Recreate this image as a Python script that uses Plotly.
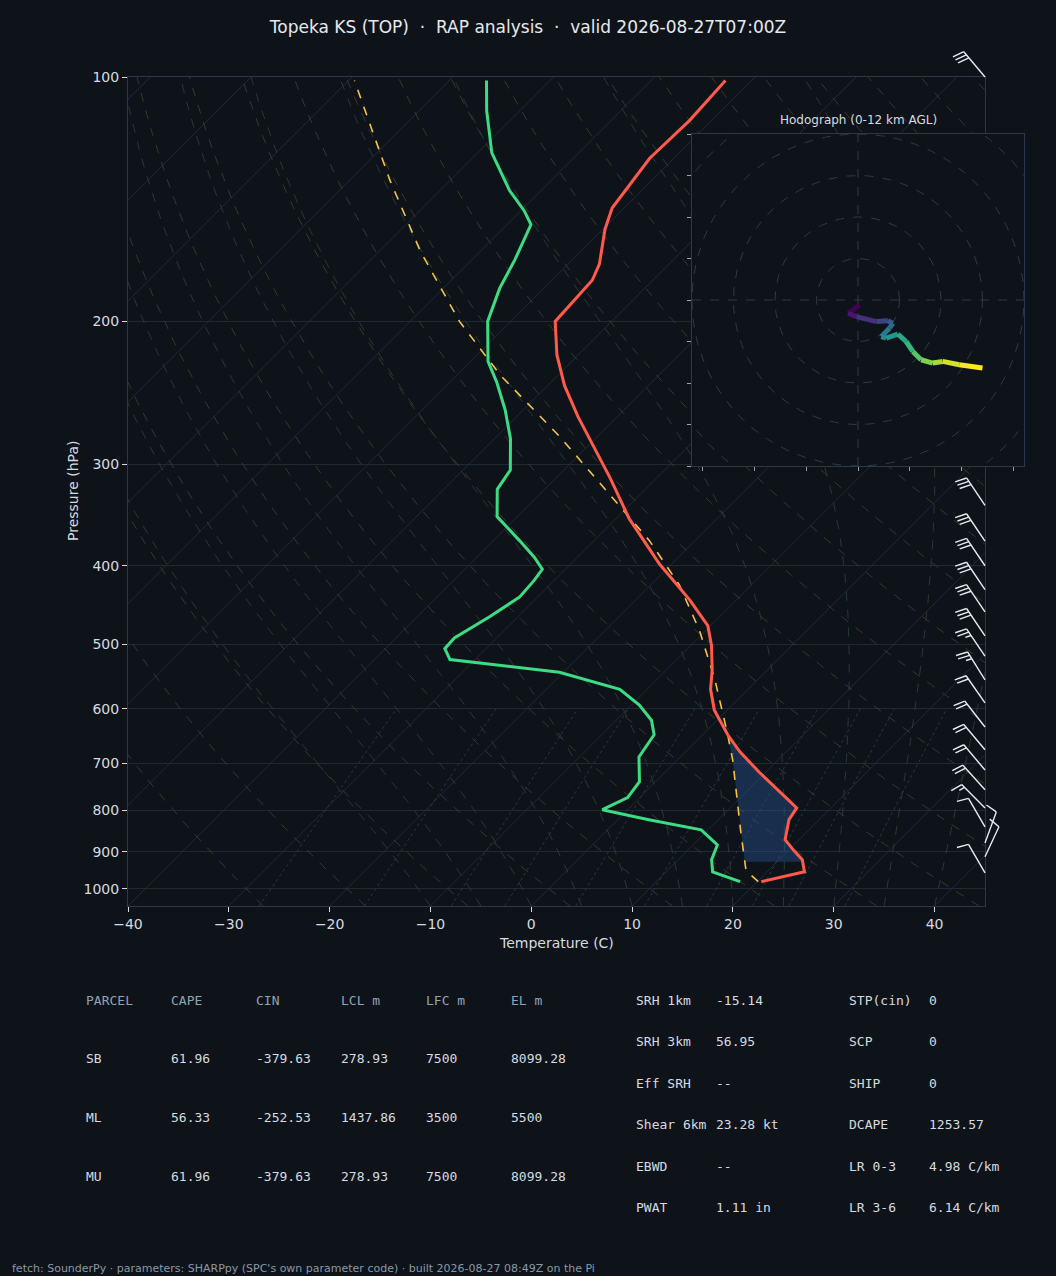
import numpy as np
import plotly.graph_objects as go
from plotly.colors import sample_colorscale

# sounding (real temperatures, C)
t_p = [980, 953, 921, 898, 870, 822, 795, 755, 718, 678, 646, 602, 568, 537, 501, 474, 441, 398,
       350, 312, 286, 262, 240, 220, 200, 178, 170, 154, 145, 126, 113, 101]
t_c = [20.4, 23.7, 22.3, 20.6, 18.6, 17.0, 16.6, 12.9, 9.3, 5.4, 2.5, -1.3, -3.7, -5.5, -8.0, -10.3,
       -14.6, -21.2, -28.7, -34.6, -39.2, -43.9, -48.3, -52.1, -55.6, -56.0, -56.9, -59.8, -61.2,
       -62.4, -62.2, -62.6]
td_p = [980, 953, 921, 883, 846, 822, 799, 772, 738, 711, 688, 646, 620, 594, 568, 541, 522, 506,
        491, 462, 437, 417, 404, 391, 373, 348, 322, 305, 279, 257, 238, 224, 200, 182, 168, 152,
        146, 138, 124, 110, 101]
td_c = [18.3, 14.6, 13.3, 12.4, 9.3, 3.1, -2.5, -1.2, -1.6, -2.9, -4.1, -4.8, -6.5, -9.2, -12.7,
        -20.4, -32.5, -34.1, -34.2, -32.8, -31.8, -32.0, -32.3, -34.2, -37.3, -42.0, -44.7, -45.3,
        -48.4, -51.8, -55.3, -58.3, -62.3, -64.4, -65.7, -67.6, -69.7, -73.1, -78.6, -83.3, -86.3]
parcel_p = [980, 950, 846, 694, 646, 553, 480, 422, 372, 327, 277, 233, 200, 164, 134, 101]
parcel_c = [20.1, 17.8, 13.2, 5.5, 2.5, -4.2, -10.7, -17.2, -24.6, -33.0, -43.8, -55.7, -65.1,
            -75.9, -86.0, -99.4]
cape_top, cape_bot = 646, 926

# winds
barb_p = [100, 337, 373, 400, 428, 456, 488, 517, 553, 590, 632, 674, 714, 755, 795, 839, 878, 913, 956]
barb_dir = [320, 326, 326, 326, 326, 326, 326, 326, 328, 325, 322, 320, 320, 318, 315, 330, 20, 25, 330]
barb_spd = [30, 30, 30, 30, 30, 30, 30, 25, 25, 20, 20, 20, 20, 20, 15, 10, 10, 10, 10]

hodo_u = [0.4, -2.4, -0.4, 4.4, 7.2, 8.4, 7.6, 5.6, 6.8, 9.6, 11.6, 13.2, 15.2, 18.0, 20.4, 24.4, 30.0]
hodo_v = [-1.2, -3.2, -4.0, -5.2, -5.0, -5.6, -6.8, -8.8, -9.2, -8.2, -10.0, -12.4, -14.4, -15.2,
          -14.8, -15.6, -16.4]

p_ticks = [100, 200, 300, 400, 500, 600, 700, 800, 900, 1000]
t_ticks = [-40, -30, -20, -10, 0, 10, 20, 30, 40]

tbl_head = ["PARCEL", "CAPE", "CIN", "LCL m", "LFC m", "EL m"]
tbl_rows = [["SB", "61.96", "-379.63", "278.93", "7500", "8099.28"],
            ["ML", "56.33", "-252.53", "1437.86", "3500", "5500"],
            ["MU", "61.96", "-379.63", "278.93", "7500", "8099.28"]]
idx_left = [("SRH 1km", "-15.14"), ("SRH 3km", "56.95"), ("Eff SRH", "--"),
            ("Shear 6km", "23.28 kt"), ("EBWD", "--"), ("PWAT", "1.11 in")]
idx_right = [("STP(cin)", "0"), ("SCP", "0"), ("SHIP", "0"), ("DCAPE", "1253.57"),
             ("LR 0-3", "4.98 C/km"), ("LR 3-6", "6.14 C/km")]

BG = "#0e1319"
PBOT = 1050.0
SKEW = 80.5  # C per decade of pressure (45 deg)
W, H = 1056, 1276
X0PX, X1PX, Y0PX, Y1PX = 128, 985, 77, 906
PXX = (X1PX - X0PX) / 85.0
PXY = (Y1PX - Y0PX) / np.log10(PBOT / 100)


def skew(t, p):
    return np.asarray(t, float) + SKEW * np.log10(PBOT / np.asarray(p, float))


fig = go.Figure()


def bgline(t, p, color, dash, width=1):
    fig.add_trace(go.Scatter(x=skew(t, p), y=p, mode="lines", hoverinfo="skip", showlegend=False,
                             line=dict(color=color, width=width, dash=dash)))


pp = np.linspace(PBOT, 100, 120)
# isotherms
for t0 in range(-140, 60, 10):
    bgline(np.full_like(pp, t0), pp, "#253040", "solid", 0.8)
# dry adiabats
for th in range(-30, 220, 10):
    bgline((th + 273.15) * (pp / 1000) ** 0.2857 - 273.15, pp, "#3d3c2e", "dash", 0.9)
# moist adiabats
for t0 in range(-10, 48, 5):
    T = t0 + 273.15
    ts = []
    for i, p in enumerate(pp):
        ts.append(T - 273.15)
        if i + 1 < len(pp):
            es = 6.112 * np.exp(17.67 * (T - 273.15) / (T - 29.65))
            rs = 0.622 * es / (p - es)
            dtdp = (287.0 * T + 2.5e6 * rs) / (p * (1004.0 + 2.5e6 ** 2 * rs * 0.622 / (287.0 * T ** 2)))
            T += dtdp * (pp[i + 1] - p)
    bgline(ts, pp, "#2b3d36", "dash", 0.9)
# mixing ratio
pm = np.linspace(PBOT, 600, 40)
for w in [0.4, 1, 2, 3, 5, 8, 12, 16, 20, 28]:
    e = w * pm / (622 + w)
    le = np.log(e / 6.112)
    bgline(243.5 * le / (17.67 - le), pm, "#2a3a4a", "dot", 0.9)

# CAPE shading
lp = np.linspace(np.log(cape_bot), np.log(cape_top), 30)
ps = np.exp(lp)
tt = np.interp(lp, np.log(t_p[::-1]), skew(t_c, t_p)[::-1])
pt = np.interp(lp, np.log(parcel_p[::-1]), skew(parcel_c, parcel_p)[::-1])
fig.add_trace(go.Scatter(x=np.concatenate([tt, pt[::-1]]), y=np.concatenate([ps, ps[::-1]]),
                         fill="toself", fillcolor="rgba(40,80,140,0.45)", mode="lines",
                         line=dict(width=0), hoverinfo="skip", showlegend=False))

fig.add_trace(go.Scatter(x=skew(parcel_c, parcel_p), y=parcel_p, mode="lines", showlegend=False,
                         line=dict(color="#f5c542", width=1.6, dash="dash")))
fig.add_trace(go.Scatter(x=skew(td_c, td_p), y=td_p, mode="lines", showlegend=False,
                         line=dict(color="#3ddc84", width=3)))
fig.add_trace(go.Scatter(x=skew(t_c, t_p), y=t_p, mode="lines", showlegend=False,
                         line=dict(color="#ff5a4a", width=3)))

# hodograph
R = 40
fig.add_trace(go.Scatter(x=[-R, R, R, -R, -R], y=[-R, -R, R, R, -R], xaxis="x2", yaxis="y2",
                         fill="toself", fillcolor=BG, mode="lines", line=dict(width=0),
                         hoverinfo="skip", showlegend=False))
cols = sample_colorscale("Viridis", [i / (len(hodo_u) - 2) for i in range(len(hodo_u) - 1)])
th = np.linspace(0, 2 * np.pi, 200)
for rr in [10, 20, 30, 40, 50]:
    fig.add_trace(go.Scatter(x=rr * np.cos(th), y=rr * np.sin(th), xaxis="x2", yaxis="y2", mode="lines",
                             line=dict(color="#2e3a48", width=1, dash="dash"), showlegend=False,
                             hoverinfo="skip"))
for xs, ys in (([-R, R], [0, 0]), ([0, 0], [-R, R])):
    fig.add_trace(go.Scatter(x=xs, y=ys, xaxis="x2", yaxis="y2", mode="lines", hoverinfo="skip",
                             line=dict(color="#2e3a48", width=1, dash="dash"), showlegend=False))
for i in range(len(hodo_u) - 1):
    fig.add_trace(go.Scatter(x=hodo_u[i:i + 2], y=hodo_v[i:i + 2], xaxis="x2", yaxis="y2",
                             mode="lines", line=dict(color=cols[i], width=5), showlegend=False))

# wind barbs on a full-page overlay axis with the same scale as the skew-T
bx, by = [], []


def seg(x0, dx0, dy0, dx1, dy1, p):
    for dxp, dyp in ((dx0, dy0), (dx1, dy1)):
        bx.append(x0 + dxp / PXX)
        by.append(10 ** (np.log10(p) - dyp / PXY))
    bx.append(None)
    by.append(None)


for p, d, s in zip(barb_p, barb_dir, barb_spd):
    x0 = 45.0
    r = np.radians(d)
    ux, uy = np.sin(r), np.cos(r)
    L = 33
    seg(x0, 0, 0, ux * L, uy * L, p)
    a = np.radians(75)
    fx, fy = ux * np.cos(a) - uy * np.sin(a), ux * np.sin(a) + uy * np.cos(a)
    n_full, half = int(s // 10), (s % 10) >= 5
    pos = L
    for k in range(n_full):
        sx, sy = ux * pos, uy * pos
        seg(x0, sx, sy, sx + fx * 12, sy + fy * 12, p)
        pos -= 4
    if half:
        sx, sy = ux * pos, uy * pos
        seg(x0, sx, sy, sx + fx * 6, sy + fy * 6, p)
fig.add_trace(go.Scatter(x=bx, y=by, mode="lines", showlegend=False, xaxis="x3", yaxis="y3",
                         line=dict(color="#e8ecf0", width=1.4), hoverinfo="skip"))

x3_range = [-40 - X0PX / PXX, -40 + (W - X0PX) / PXX]
y3_range = [2 + (H - Y0PX) / PXY, 2 - Y0PX / PXY]

ax_col = "#2c3846"
txt = "#d6dbe0"
fig.update_layout(
    width=W, height=H, paper_bgcolor=BG, plot_bgcolor="rgba(0,0,0,0)", margin=dict(l=0, r=0, t=0, b=0),
    font=dict(family="DejaVu Sans", color=txt, size=14),
    title=dict(text="Topeka KS (TOP)  ·  RAP analysis  ·  valid 2026-08-27T07:00Z", x=0.5, y=1 - 27 / H,
               xanchor="center", yanchor="middle", font=dict(size=17, color="#e6e9ec")),
    xaxis=dict(domain=[X0PX / W, X1PX / W], range=[-40, 45], tickvals=t_ticks, showgrid=False,
               zeroline=False, showline=True, linecolor=ax_col, mirror=True, ticks="outside",
               tickcolor=txt, ticklen=5, automargin=False),
    yaxis=dict(domain=[1 - Y1PX / H, 1 - Y0PX / H], type="log", range=[np.log10(PBOT), 2],
               tickvals=p_ticks, ticktext=[str(v) for v in p_ticks], gridcolor="#1f2a35",
               zeroline=False, showline=True, linecolor=ax_col, mirror=True, ticks="outside",
               tickcolor=txt, ticklen=5, automargin=False),
    xaxis2=dict(domain=[692 / W, 1024 / W], anchor="y2", range=[-R, R], dtick=12.5, tick0=0,
                showticklabels=False, ticks="outside", tickcolor="#9aa4ae", ticklen=4, automargin=False,
                showgrid=False, zeroline=False, showline=True, linecolor=ax_col, mirror=True),
    yaxis2=dict(domain=[1 - 466 / H, 1 - 134 / H], anchor="x2", range=[-R, R], dtick=10,
                showticklabels=False, ticks="outside", tickcolor="#9aa4ae", ticklen=4, automargin=False,
                showgrid=False, zeroline=False, showline=True, linecolor=ax_col, mirror=True),
    xaxis3=dict(domain=[0, 1], anchor="y3", range=x3_range, visible=False),
    yaxis3=dict(domain=[0, 1], anchor="x3", type="log", range=y3_range, visible=False),
)

ann = []


def text(s, x, y, color="#d6dbe0", size=13, family="DejaVu Sans Mono", anchor="left"):
    ann.append(dict(text=s, x=x / W, y=1 - y / H, xref="paper", yref="paper", showarrow=False,
                    xanchor=anchor, yanchor="middle", font=dict(size=size, color=color, family=family)))


text("Hodograph (0-12 km AGL)", 858, 120, "#d6dbe0", 12, "DejaVu Sans", "center")
text("Temperature (C)", 556, 943, txt, 14, "DejaVu Sans", "center")
ann.append(dict(text="Pressure (hPa)", x=63 / W, y=1 - 491 / H, xref="paper", yref="paper",
                showarrow=False, textangle=-90, font=dict(size=14, color=txt)))
cx = [84, 169, 254, 339, 424, 509]
for c, h in zip(cx, tbl_head):
    text(h, c, 1000, "#8fa3b8")
for r, row in enumerate(tbl_rows):
    for c, v in zip(cx, row):
        text(v, c, 1058 + r * 59)
for r, (k, v) in enumerate(idx_left):
    text(k, 634, 1000 + r * 41.5)
    text(v, 714, 1000 + r * 41.5)
for r, (k, v) in enumerate(idx_right):
    text(k, 847, 1000 + r * 41.5)
    text(v, 927, 1000 + r * 41.5)
text("fetch: SounderPy · parameters: SHARPpy (SPC's own parameter code) · built 2026-08-27 08:49Z on the Pi",
     10, 1268, "#8a98a8", 11, "DejaVu Sans")
fig.update_layout(annotations=ann)

fig.write_html("out.html", post_script="document.body.style.margin='0';",
               config={"displayModeBar": False})
